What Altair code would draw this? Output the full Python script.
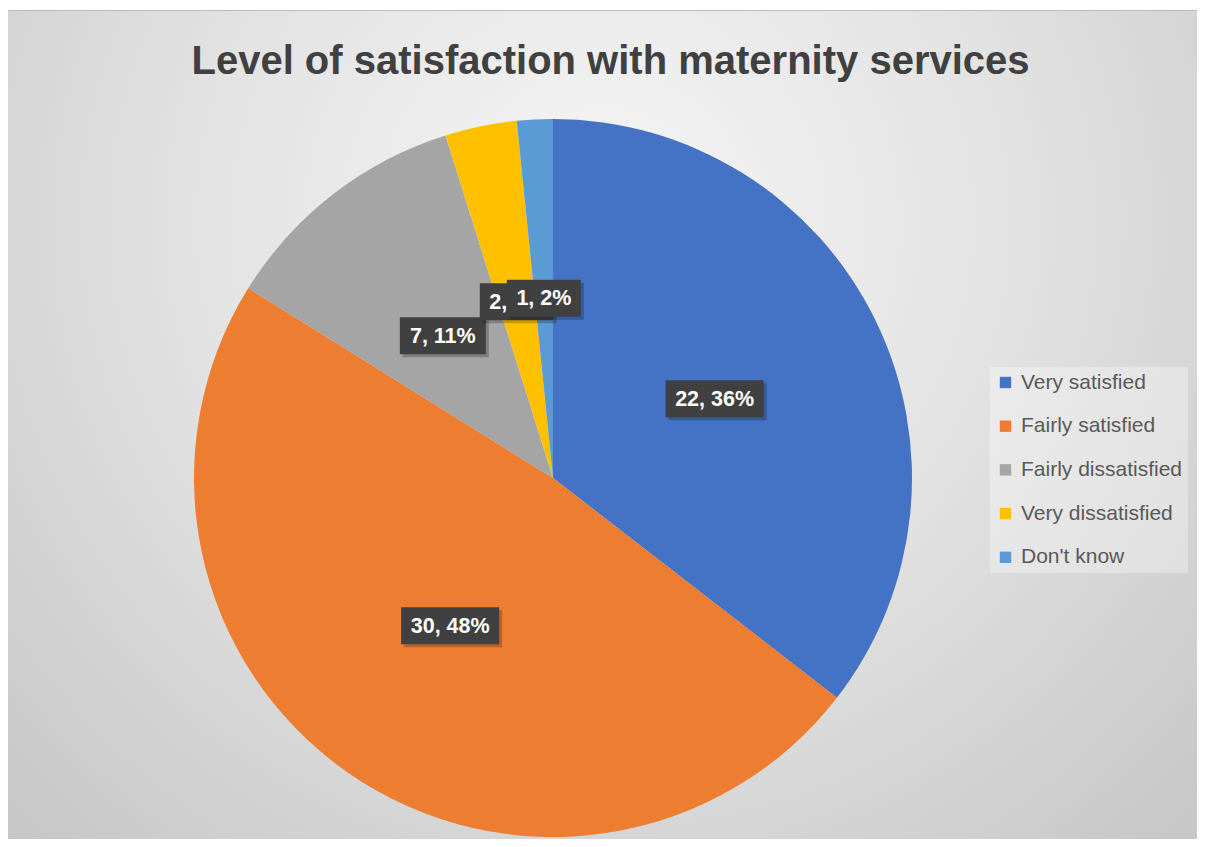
import altair as alt
import pandas as pd

# ---- data ----
categories = ["Very satisfied", "Fairly satisfied", "Fairly dissatisfied", "Very dissatisfied", "Don't know"]
counts = [22, 30, 7, 2, 1]
colors = ["#4472C4", "#ED7D31", "#A5A5A5", "#FFC000", "#5B9BD5"]
title_text = "Level of satisfaction with maternity services"

# ---- layout ----
W, H = 1189, 831          # whole chart = plot area (padding 0)
CX, CY, R = 545, 470, 359  # pie centre / radius
LR = 180                   # label radius
FONT = "Liberation Sans"

df = pd.DataFrame({"category": categories, "value": counts, "idx": list(range(len(categories)))})
base = alt.Chart(df)

xs = alt.Scale(domain=[0, W], range=[0, W], nice=False, zero=False)
ys = alt.Scale(domain=[0, H], range=[0, H], nice=False, zero=False)

one = pd.DataFrame({"k": [0]})
bg = alt.Chart(one).mark_rect(
    fill={
        "gradient": "radial",
        "x1": 0.5, "y1": 0.33, "r1": 0,
        "x2": 0.5, "y2": 0.33, "r2": 0.78,
        "stops": [
            {"offset": 0, "color": "#f6f6f6"},
            {"offset": 0.45, "color": "#e2e2e2"},
            {"offset": 1, "color": "#c2c2c2"},
        ],
    }
).encode(x=alt.value(0), x2=alt.value(W), y=alt.value(2), y2=alt.value(H))

topline = alt.Chart(one).mark_rule(color="#bdbdbd", strokeWidth=1).encode(
    x=alt.value(0), x2=alt.value(W), y=alt.value(2.5)
)

pie = base.mark_arc(outerRadius=R).encode(
    theta=alt.Theta("value:Q", stack=True),
    color=alt.Color(
        "category:N",
        scale=alt.Scale(domain=categories, range=colors),
        sort=categories,
        title=None,
        legend=alt.Legend(
            orient="none", legendX=982, legendY=359,
            fillColor="rgba(255,255,255,0.32)", padding=5, rowPadding=21.7,
            symbolType="square", symbolSize=130, symbolStrokeWidth=0,
            labelFont=FONT, labelFontSize=21, labelColor="#595959",
            labelOffset=5, labelLimit=400,
        ),
    ),
    order=alt.Order("idx:Q", sort="ascending"),
    x=alt.value(CX),
    y=alt.value(CY),
)

# percentages rounded so that they add up to 100 (largest remainder)
lab = base.transform_joinaggregate(total="sum(value)").transform_calculate(
    p="datum.value / datum.total * 100",
    fl="floor(datum.p)",
    rem="datum.p - datum.fl",
).transform_joinaggregate(
    flsum="sum(fl)"
).transform_window(
    rk="row_number()", sort=[alt.SortField("rem", order="descending")]
).transform_calculate(
    pct="datum.fl + (datum.rk <= 100 - datum.flsum ? 1 : 0)"
).transform_window(
    cum="sum(value)", sort=[alt.SortField("idx")], frame=[None, 0]
).transform_calculate(
    mid="(datum.cum - datum.value/2) / datum.total * 2 * PI",
    lx=f"{CX} + {LR} * sin(datum.mid)",
    ly=f"{CY} - {LR} * cos(datum.mid)",
    label="datum.value + ', ' + datum.pct + '%'",
    bw="length(datum.label) * 12 + 14",
    bx1="datum.lx - datum.bw / 2",
    bx2="datum.lx + datum.bw / 2",
    by1="datum.ly - 18.5",
    by2="datum.ly + 18.5",
)

label_layers = []
for i in range(len(categories)):
    sub = lab.transform_filter(alt.datum.idx == i)
    enc = dict(
        x=alt.X("bx1:Q", scale=xs, axis=None),
        x2="bx2:Q",
        y=alt.Y("by1:Q", scale=ys, axis=None),
        y2="by2:Q",
    )
    shadow = sub.mark_rect(color="#000000", opacity=0.22, xOffset=3, x2Offset=3, yOffset=3, y2Offset=3).encode(**enc)
    box = sub.mark_rect(color="#404040").encode(**enc)
    txt = sub.mark_text(
        font=FONT, fontSize=21.5, fontWeight="bold", color="#ffffff",
        align="center", baseline="middle", dy=1,
    ).encode(
        x=alt.X("lx:Q", scale=xs, axis=None),
        y=alt.Y("ly:Q", scale=ys, axis=None),
        text="label:N",
    )
    label_layers += [shadow, box, txt]

chart = alt.layer(bg, topline, pie, *label_layers).properties(
    width=W,
    height=H,
    padding=0,
    autosize=alt.AutoSizeParams(type="none"),
    background="#ffffff",
    title=alt.TitleParams(
        text=title_text, font=FONT, fontSize=40, fontWeight="bold", color="#404040",
        anchor="middle", frame="group", orient="top", baseline="alphabetic",
        offset=-64, dx=8, dy=42,
    ),
).configure_view(strokeWidth=0)

chart.save("out.html", embed_options={"renderer": "svg", "actions": False})
